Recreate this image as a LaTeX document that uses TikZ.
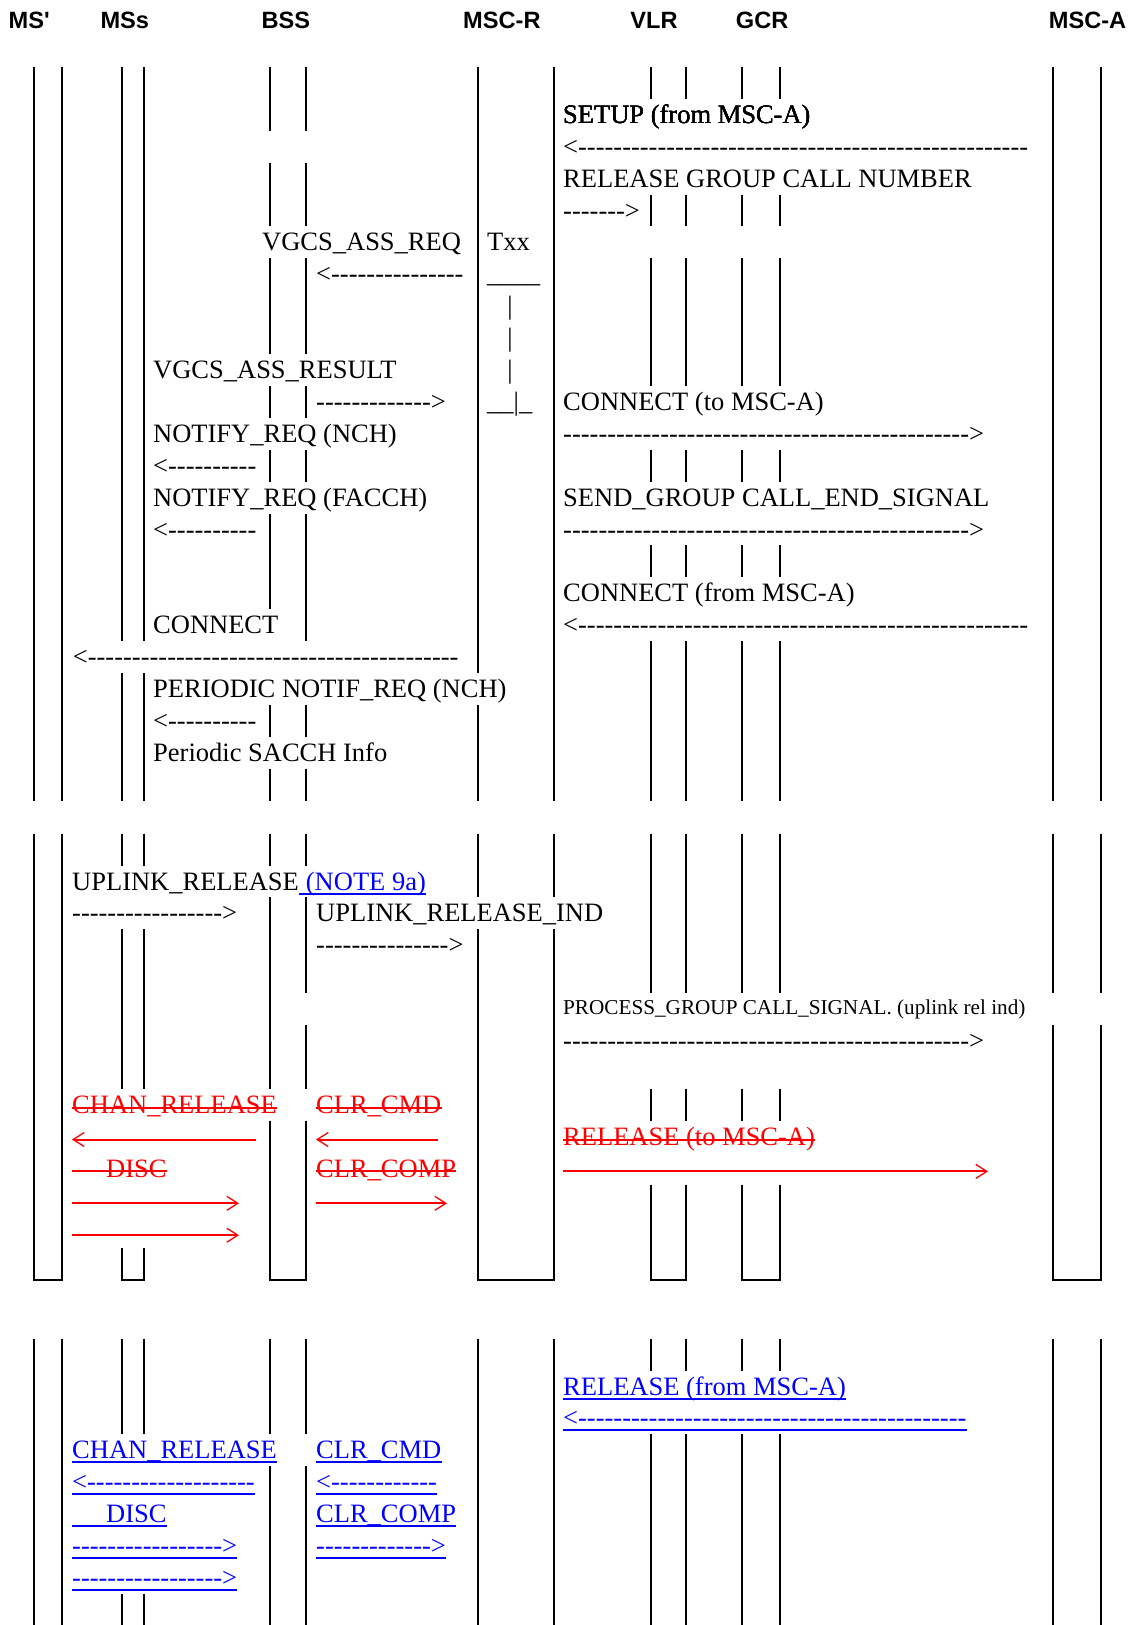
\documentclass[tikz,border=0pt]{standalone}
\usepackage{fontspec}
\usetikzlibrary{arrows.meta}
\newfontfamily\tmr{Liberation Serif}
\newfontfamily\hvb{Liberation Sans}
\newcommand\dl[1]{\foreach\q in {1,...,#1}{-}}
\newcommand\lifes[2]{\foreach \xa/\ka/\kb in {#2}
  \draw[lf] (\xa,{#1+31.9*(\ka)-24.5}) -- (\xa,{#1+31.9*(\kb)+7.4});}
\begin{document}
\begin{tikzpicture}[x=1pt, y=-1pt,
  lf/.style={draw=black, line width=2pt},
  tx/.style={anchor=base west, inner sep=0pt, font=\tmr\fontsize{26.5}{31.9}\selectfont},
  sm/.style={tx, font=\tmr\fontsize{21.2}{25}\selectfont},
  hd/.style={anchor=base west, inner sep=0pt, font=\hvb\bfseries\fontsize{23.6}{28}\selectfont},
  ul/.style={draw=blue, line width=2pt},
  st/.style={draw=red, line width=2pt},
  rd/.style={draw=red, line width=2pt, -{Straight Barb[length=11pt,width=14pt,line width=1.3pt]}}]
\useasboundingbox (0,0) rectangle (1134,1625);
\node[hd] (hMSp) at (8.4,28.3) {MS'};
\node[hd] (hMSs) at (100.3,28.3) {MSs};
\node[hd] (hBSS) at (261.4,28.3) {BSS};
\node[hd] (hMSCR) at (463,28.3) {MSC-R};
\node[hd] (hVLR) at (630.2,28.3) {VLR};
\node[hd] (hGCR) at (735.7,28.3) {GCR};
\node[hd] (hMSCA) at (1048.7,28.3) {MSC-A};
% lifelines, first part
\lifes{123.3}{34/-1/21, 62/-1/21, 122/-1/16, 122/18/21, 144/-1/16, 144/18/21,
  270/-1/0, 270/2/3, 270/5/7, 270/9/9, 270/11/11, 270/13/15, 270/19/19, 270/21/21,
  306/-1/0, 306/2/3, 306/5/7, 306/9/9, 306/11/11, 306/13/16, 306/19/19, 306/21/21,
  478/-1/17, 478/19/21, 554/-1/21, 1053/-1/21, 1101/-1/21}
\foreach \xv in {651,686,742,780}
  \lifes{123.3}{\xv/-1/-1, \xv/3/3, \xv/5/8, \xv/11/11, \xv/14/14, \xv/17/21}
% lifelines, second part
\lifes{890}{34/-1/12, 62/-1/12, 122/-1/-1, 122/2/6, 122/12/12, 144/-1/-1, 144/2/6, 144/12/12,
  270/-1/-1, 270/1/6, 270/8/12, 306/-1/-1, 306/1/3, 306/5/6, 306/8/12,
  478/-1/0, 478/2/12, 554/-1/0, 554/2/12, 1053/-1/3, 1053/5/12, 1101/-1/3, 1101/5/12}
\foreach \xv in {651,686,742,780}
  \lifes{890}{\xv/-1/3, \xv/7/7, \xv/10/12}
\foreach \xa/\xb in {34/62,122/144,270/306,478/554,651/686,742/780,1053/1101}
  \draw[lf, line cap=rect] (\xa,1280.2) -- (\xb,1280.2);
% lifelines, third part
\lifes{1395}{34/-1/7, 62/-1/7, 122/-1/1, 122/7/7, 144/-1/1, 144/7/7,
  270/-1/1, 270/3/7, 306/-1/1, 306/3/7, 478/-1/7, 554/-1/7, 1053/-1/7, 1101/-1/7}
\foreach \xv in {651,686,742,780}
  \lifes{1395}{\xv/-1/-1, \xv/2/7}
% messages, first part
\node[tx] (setup) at (563,123.3) {SETUP (from MSC-A)};
\node[tx] (a1) at (563,155.2) {<\dl{51}};
\node[tx] (rgcn) at (563,187.1) {RELEASE GROUP CALL NUMBER};
\node[tx] (a2) at (563,219.0) {\dl{7}>};
\node[tx] (vreq) at (262,250.9) {VGCS\_ASS\_REQ};
\node[tx] (txx) at (487,250.9) {Txx};
\node[tx] (a3) at (316,282.8) {<\dl{15}};
\node[tx] (tm1) at (487,282.8) {\_\_\_\_};
\node[tx, anchor=base] (tm2) at (510,314.7) {|};
\node[tx, anchor=base] (tm3) at (510,346.6) {|};
\node[tx, anchor=base] (tm4) at (510,378.5) {|};
\node[tx] (tm5) at (487,410.4) {\_\_|\_};
\node[tx] (vres) at (153,378.5) {VGCS\_ASS\_RESULT};
\node[tx] (a4) at (316,410.4) {\dl{13}>};
\node[tx] (con1) at (563,410.4) {CONNECT (to MSC-A)};
\node[tx] (nch) at (153,442.3) {NOTIFY\_REQ (NCH)};
\node[tx] (a5) at (563,442.3) {\dl{46}>};
\node[tx] (a6) at (153,474.2) {<\dl{10}};
\node[tx] (facch) at (153,506.1) {NOTIFY\_REQ (FACCH)};
\node[tx] (sgce) at (563,506.1) {SEND\_GROUP CALL\_END\_SIGNAL};
\node[tx] (a7) at (153,538.0) {<\dl{10}};
\node[tx] (a8) at (563,538.0) {\dl{46}>};
\node[tx] (con2) at (563,601.8) {CONNECT (from MSC-A)};
\node[tx] (con3) at (153,633.7) {CONNECT};
\node[tx] (a9) at (563,633.7) {<\dl{51}};
\node[tx] (a10) at (72.7,665.6) {<\dl{42}};
\node[tx] (pnr) at (153,697.5) {PERIODIC NOTIF\_REQ (NCH)};
\node[tx] (a11) at (153,729.4) {<\dl{10}};
\node[tx] (psi) at (153,761.3) {Periodic SACCH Info};
% messages, second part
\node[tx] (ulr) at (72,890) {UPLINK\_RELEASE};
\node[tx, text=blue] (note) at (ulr.base east) {\hspace*{6.6pt}(NOTE 9a)};
\node[tx] (b1) at (72,921.9) {\dl{17}>};
\node[tx] (ulri) at (316,921.9) {UPLINK\_RELEASE\_IND};
\node[tx] (b2) at (316,953.8) {\dl{15}>};
\node[sm] (pgcs) at (563,1014) {PROCESS\_GROUP CALL\_SIGNAL. (uplink rel ind)};
\node[tx] (b3) at (563,1049.5) {\dl{46}>};
\node[tx, text=red] (chr) at (72,1113.3) {CHAN\_RELEASE};
\node[tx, text=red] (clc) at (316,1113.3) {CLR\_CMD};
\node[tx, text=red] (rel) at (563,1145.2) {RELEASE (to MSC-A)};
\node[tx, text=red] (disc) at (72,1177.1) {\hspace*{34pt}DISC};
\node[tx, text=red] (clp) at (316,1177.1) {CLR\_COMP};
\coordinate (r1a) at (255.6,1139.5); \coordinate (r1b) at (72,1139.5);
\coordinate (r2a) at (438,1139.5); \coordinate (r2b) at (316,1139.5);
\coordinate (r3a) at (563,1171.4); \coordinate (r3b) at (988,1171.4);
\coordinate (r4a) at (72,1203.3); \coordinate (r4b) at (239,1203.3);
\coordinate (r5a) at (316,1203.3); \coordinate (r5b) at (447,1203.3);
\coordinate (r6a) at (72,1235.2); \coordinate (r6b) at (239,1235.2);
\draw[rd] (r1a) -- (r1b); \draw[rd] (r2a) -- (r2b); \draw[rd] (r3a) -- (r3b);
\draw[rd] (r4a) -- (r4b); \draw[rd] (r5a) -- (r5b); \draw[rd] (r6a) -- (r6b);
\foreach \n in {chr,clc,rel,disc,clp}
  \draw[st] ([yshift=5.7pt]\n.base west) -- ([yshift=5.7pt]\n.base east);
% messages, third part
\node[tx, text=blue] (relf) at (563,1395) {RELEASE (from MSC-A)};
\node[tx, text=blue] (c1) at (563,1426.9) {<\dl{44}};
\node[tx, text=blue] (chr2) at (72,1458.8) {CHAN\_RELEASE};
\node[tx, text=blue] (clc2) at (316,1458.8) {CLR\_CMD};
\node[tx, text=blue] (c2) at (72,1490.7) {<\dl{19}};
\node[tx, text=blue] (c3) at (316,1490.7) {<\dl{12}};
\node[tx, text=blue] (disc2) at (72,1522.6) {\hspace*{34pt}DISC};
\node[tx, text=blue] (clp2) at (316,1522.6) {CLR\_COMP};
\node[tx, text=blue] (c4) at (72,1554.5) {\dl{17}>};
\node[tx, text=blue] (c5) at (316,1554.5) {\dl{13}>};
\node[tx, text=blue] (c6) at (72,1586.4) {\dl{17}>};
\foreach \n in {note,relf,c1,chr2,clc2,c2,c3,disc2,clp2,c4,c5,c6}
  \draw[ul] ([yshift=-3.5pt]\n.base west) -- ([yshift=-3.5pt]\n.base east);
\end{tikzpicture}
\end{document}
